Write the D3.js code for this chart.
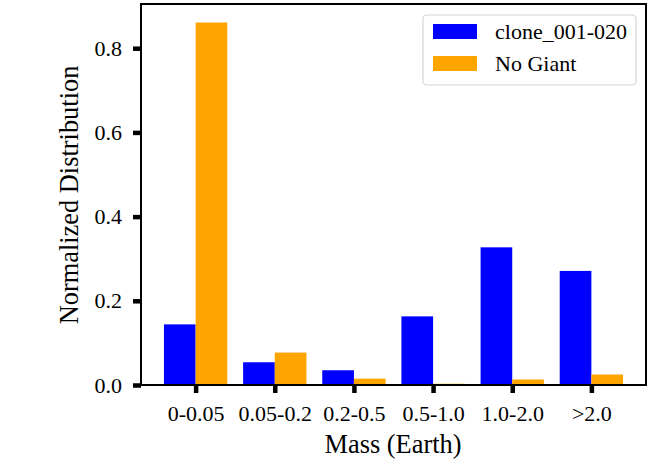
<!DOCTYPE html>
<html>
<head>
<meta charset="utf-8">
<script src="https://cdn.jsdelivr.net/npm/d3@7"></script>
<style>
  body { margin: 0; background: #fff; }
  svg text { font-family: "Liberation Serif", "Times New Roman", serif; fill: #000; }
</style>
</head>
<body>
<div id="chart"></div>
<script>
// grouped bars: normalized mass distribution, two samples
const categories = ["0-0.05", "0.05-0.2", "0.2-0.5", "0.5-1.0", "1.0-2.0", ">2.0"];
const cloneVals = [0.144, 0.054, 0.035, 0.163, 0.327, 0.271];
const noGiantVals = [0.861, 0.077, 0.015, 0.003, 0.013, 0.025];
const yTicks = [0.0, 0.2, 0.4, 0.6, 0.8];
const seriesNames = ["clone_001-020", "No Giant"];
const colors = ["#0000ff", "#ffa500"];

const width = 655, height = 463;
const plotL = 141, plotR = 646, plotT = 4, plotB = 385;
const barW = 0.4;

const svg = d3.select("#chart").append("svg")
  .attr("width", width)
  .attr("height", height);

const x = d3.scaleLinear().domain([-0.69, categories.length - 1 + 0.69]).range([plotL, plotR]);
const y = d3.scaleLinear().domain([0, 0.905]).range([plotB, plotT]);

const series = [cloneVals, noGiantVals];
series.forEach((vals, s) => {
  svg.append("g").selectAll("rect")
    .data(vals)
    .join("rect")
    .attr("x", (d, i) => x(i + (s === 0 ? -barW : 0)))
    .attr("y", d => y(d))
    .attr("width", x(barW) - x(0))
    .attr("height", d => y(0) - y(d))
    .attr("fill", colors[s]);
});

// axes
const xAxis = svg.append("g")
  .attr("transform", `translate(0,${plotB})`)
  .call(d3.axisBottom(x).tickValues(d3.range(categories.length))
    .tickFormat(i => categories[i]).tickSize(8).tickPadding(12).tickSizeOuter(0));
const yAxis = svg.append("g")
  .attr("transform", `translate(${plotL},0)`)
  .call(d3.axisLeft(y).tickValues(yTicks).tickFormat(d3.format(".1f"))
    .tickSize(8).tickPadding(11).tickSizeOuter(0));

[xAxis, yAxis].forEach(g => {
  g.attr("font-family", null).attr("font-size", null);
  g.select(".domain").remove();
  g.selectAll(".tick line").attr("stroke", "#000").attr("stroke-width", 4.5);
  g.selectAll(".tick text").style("font-size", "22px");
});
yAxis.selectAll(".tick text").attr("dy", "0.32em");

// frame
svg.append("rect")
  .attr("x", plotL).attr("y", plotT)
  .attr("width", plotR - plotL).attr("height", plotB - plotT)
  .attr("fill", "none").attr("stroke", "#000").attr("stroke-width", 2);

// labels
svg.append("text")
  .attr("x", 393).attr("y", 453)
  .attr("text-anchor", "middle")
  .style("font-size", "26.4px")
  .text("Mass (Earth)");
svg.append("text")
  .attr("transform", "translate(78,195) rotate(-90)")
  .attr("text-anchor", "middle")
  .style("font-size", "26.4px")
  .text("Normalized Distribution");

// legend
const legend = svg.append("g");
legend.append("rect")
  .attr("x", 423).attr("y", 15).attr("width", 213).attr("height", 70)
  .attr("rx", 4)
  .attr("fill", "#fff").attr("fill-opacity", 0.8)
  .attr("stroke", "#d5d5d5").attr("stroke-width", 1.2);
seriesNames.forEach((name, i) => {
  const g = legend.append("g").attr("transform", `translate(0,${i * 32})`);
  g.append("rect").attr("x", 433).attr("y", 24).attr("width", 44).attr("height", 15)
    .attr("fill", colors[i]);
  g.append("text").attr("x", 495).attr("y", 39).style("font-size", "22px").text(name);
});
</script>
</body>
</html>
